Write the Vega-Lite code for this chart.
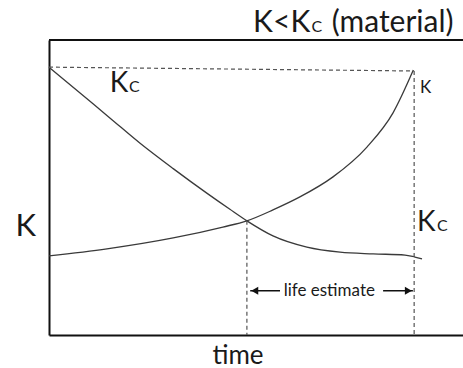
{
  "$schema": "https://vega.github.io/schema/vega-lite/v6.json",
  "width": 414,
  "height": 295,
  "autosize": "none",
  "padding": {"left": 49, "top": 40, "right": 0, "bottom": 33},
  "background": "white",
  "config": {"view": {"stroke": null}, "font": "Lato", "text": {"font": "Lato", "color": "#1a1a1a"}},
  "datasets": {
    "curves": [
      {"series": "Kc", "t": 0, "K": 9.08},
      {"series": "Kc", "t": 0.75, "K": 8.2},
      {"series": "Kc", "t": 1.47, "K": 7.36},
      {"series": "Kc", "t": 2.2, "K": 6.5},
      {"series": "Kc", "t": 3.0, "K": 5.64},
      {"series": "Kc", "t": 3.82, "K": 4.8},
      {"series": "Kc", "t": 4.37, "K": 4.26},
      {"series": "Kc", "t": 4.78, "K": 3.87},
      {"series": "Kc", "t": 5.41, "K": 3.36},
      {"series": "Kc", "t": 6.23, "K": 2.98},
      {"series": "Kc", "t": 7.03, "K": 2.81},
      {"series": "Kc", "t": 7.83, "K": 2.75},
      {"series": "Kc", "t": 8.6, "K": 2.71},
      {"series": "Kc", "t": 8.84, "K": 2.64},
      {"series": "Kc", "t": 9.01, "K": 2.58},
      {"series": "K", "t": 0, "K": 2.68},
      {"series": "K", "t": 1.4, "K": 2.92},
      {"series": "K", "t": 3.0, "K": 3.29},
      {"series": "K", "t": 4.2, "K": 3.66},
      {"series": "K", "t": 4.78, "K": 3.87},
      {"series": "K", "t": 5.41, "K": 4.24},
      {"series": "K", "t": 6.06, "K": 4.68},
      {"series": "K", "t": 6.86, "K": 5.36},
      {"series": "K", "t": 7.68, "K": 6.37},
      {"series": "K", "t": 8.31, "K": 7.53},
      {"series": "K", "t": 8.8, "K": 8.98}
    ],
    "guides": [
      {"t": 0, "K": 9.08, "t2": 8.82, "K2": 8.95},
      {"t": 8.82, "K": 8.95, "t2": 8.82, "K2": 0},
      {"t": 4.78, "K": 3.87, "t2": 4.78, "K2": 0}
    ],
    "arrows": [
      {"t": 4.86, "K": 1.5, "t2": 5.58, "K2": 1.5},
      {"t": 8.07, "K": 1.5, "t2": 8.79, "K2": 1.5}
    ],
    "heads": [
      {"t": 4.97, "K": 1.5, "dir": "triangle-left"},
      {"t": 8.68, "K": 1.5, "dir": "triangle-right"}
    ],
    "frame": [{"t": 0, "t2": 10, "K": 10}],
    "titleText": [
      {"label": "K<K", "t": 4.93, "K": 10.27},
      {"label": "(material)", "t": 6.83, "K": 10.27}
    ],
    "bigText": [
      {"label": "K", "t": 1.47, "K": 8.24},
      {"label": "K", "t": 8.89, "K": 3.53}
    ],
    "subText": [
      {"label": "C", "t": 6.34, "K": 10.27},
      {"label": "C", "t": 1.93, "K": 8.24},
      {"label": "C", "t": 9.37, "K": 3.53}
    ],
    "smallText": [
      {"label": "K", "t": 8.96, "K": 8.2}
    ],
    "midText": [
      {"label": "life estimate", "t": 6.77, "K": 1.32}
    ]
  },
  "layer": [
    {
      "data": {"name": "curves"},
      "mark": {"type": "line", "interpolate": "monotone", "color": "#3a3a3a", "strokeWidth": 1.3},
      "encoding": {
        "x": {"field": "t", "type": "quantitative", "scale": {"domain": [0, 10], "nice": false, "zero": false},
          "axis": {"domain": true, "domainColor": "#111", "domainWidth": 2, "ticks": false, "labels": false, "grid": false,
            "title": "time", "titleFont": "Lato", "titleFontSize": 26, "titleFontWeight": "normal", "titleColor": "#1a1a1a",
            "titleX": 188.5, "titleY": 28, "titleAlign": "center", "titleBaseline": "alphabetic"}},
        "y": {"field": "K", "type": "quantitative", "scale": {"domain": [0, 10], "nice": false, "zero": false},
          "axis": {"domain": true, "domainColor": "#111", "domainWidth": 2, "ticks": false, "labels": false, "grid": false,
            "title": "K", "titleFont": "Lato", "titleFontSize": 31, "titleFontWeight": "normal", "titleColor": "#1a1a1a",
            "titleAngle": 0, "titleX": -34, "titleY": 195, "titleAlign": "left", "titleBaseline": "alphabetic"}},
        "detail": {"field": "series"}
      }
    },
    {
      "data": {"name": "frame"},
      "mark": {"type": "rule", "color": "#111", "strokeWidth": 2},
      "encoding": {
        "x": {"field": "t", "type": "quantitative"},
        "x2": {"field": "t2"},
        "y": {"field": "K", "type": "quantitative"}
      }
    },
    {
      "data": {"name": "guides"},
      "mark": {"type": "rule", "color": "#555", "strokeWidth": 1.2, "strokeDash": [4, 3]},
      "encoding": {
        "x": {"field": "t", "type": "quantitative"},
        "x2": {"field": "t2"},
        "y": {"field": "K", "type": "quantitative"},
        "y2": {"field": "K2"}
      }
    },
    {
      "data": {"name": "arrows"},
      "mark": {"type": "rule", "color": "#111", "strokeWidth": 1.5},
      "encoding": {
        "x": {"field": "t", "type": "quantitative"},
        "x2": {"field": "t2"},
        "y": {"field": "K", "type": "quantitative"},
        "y2": {"field": "K2"}
      }
    },
    {
      "data": {"name": "heads"},
      "mark": {"type": "point", "filled": true, "color": "#111", "size": 65, "opacity": 1},
      "encoding": {
        "x": {"field": "t", "type": "quantitative"},
        "y": {"field": "K", "type": "quantitative"},
        "shape": {"field": "dir", "type": "nominal", "scale": null}
      }
    },
    {
      "data": {"name": "titleText"},
      "mark": {"type": "text", "fontSize": 30, "align": "left", "baseline": "alphabetic"},
      "encoding": {
        "x": {"field": "t", "type": "quantitative"},
        "y": {"field": "K", "type": "quantitative"},
        "text": {"field": "label"}
      }
    },
    {
      "data": {"name": "bigText"},
      "mark": {"type": "text", "fontSize": 28, "align": "left", "baseline": "alphabetic"},
      "encoding": {
        "x": {"field": "t", "type": "quantitative"},
        "y": {"field": "K", "type": "quantitative"},
        "text": {"field": "label"}
      }
    },
    {
      "data": {"name": "subText"},
      "mark": {"type": "text", "fontSize": 16, "align": "left", "baseline": "alphabetic"},
      "encoding": {
        "x": {"field": "t", "type": "quantitative"},
        "y": {"field": "K", "type": "quantitative"},
        "text": {"field": "label"}
      }
    },
    {
      "data": {"name": "smallText"},
      "mark": {"type": "text", "fontSize": 17, "align": "left", "baseline": "alphabetic"},
      "encoding": {
        "x": {"field": "t", "type": "quantitative"},
        "y": {"field": "K", "type": "quantitative"},
        "text": {"field": "label"}
      }
    },
    {
      "data": {"name": "midText"},
      "mark": {"type": "text", "fontSize": 17, "align": "center", "baseline": "alphabetic"},
      "encoding": {
        "x": {"field": "t", "type": "quantitative"},
        "y": {"field": "K", "type": "quantitative"},
        "text": {"field": "label"}
      }
    }
  ]
}
